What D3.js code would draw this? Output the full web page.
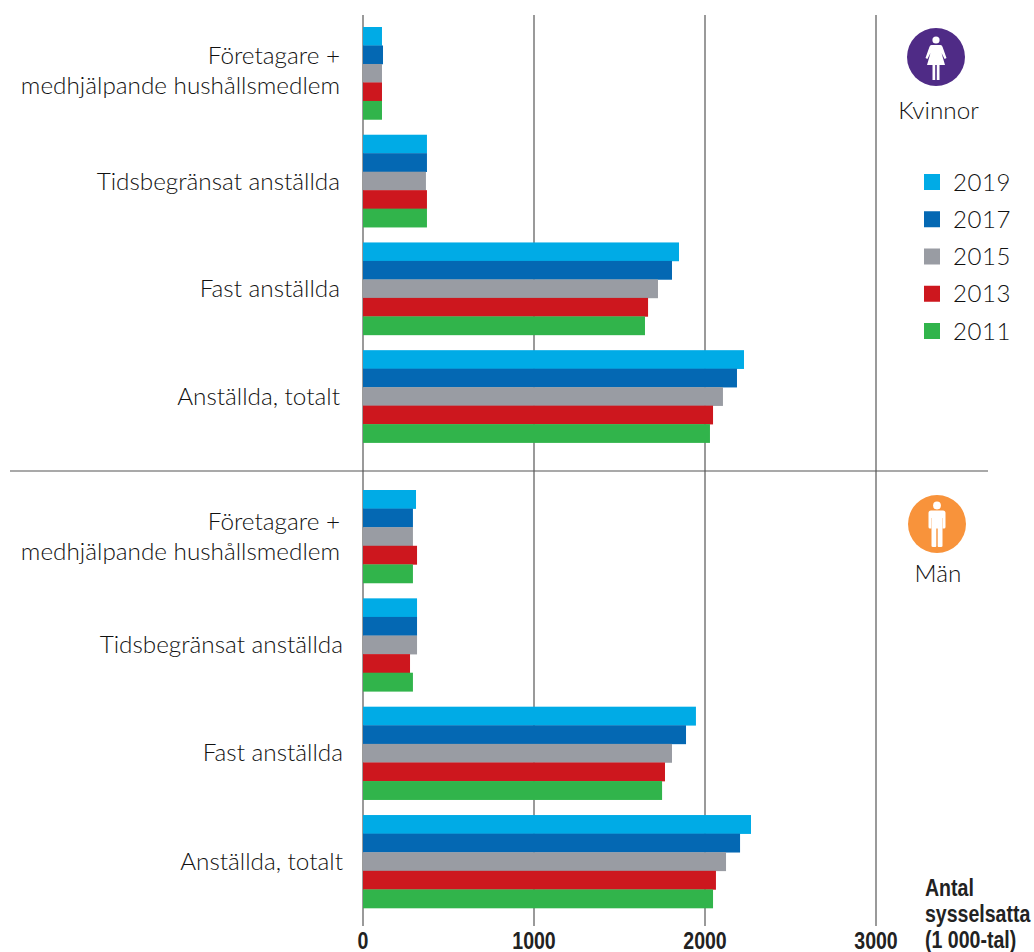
<!DOCTYPE html>
<html><head><meta charset="utf-8">
<script src="https://cdnjs.cloudflare.com/ajax/libs/d3/7.8.5/d3.min.js"></script>
<style>html,body{margin:0;padding:0;background:#fff}svg{display:block}
.lab{font-family:Lato,"Open Sans",sans-serif;font-size:24.3px;fill:#111;font-weight:300}
.tick-l{font-family:"Liberation Sans",sans-serif;font-weight:700;font-size:23px;fill:#222}
</style></head><body>
<svg id="c" width="1034" height="952"></svg>
<script>
const years = ["2019","2017","2015","2013","2011"];
const colors = ["#00abe6","#0468b3","#999ca3","#cd171e","#31b44b"];
const categories = ["Företagare","Tidsbegränsat","Fast","Totalt"];
const tickValues = [0,1000,2000,3000];
const kvinnorForetagare = [111,117,111,111,111];
const kvinnorTids = [374,374,368,374,374];
const kvinnorFast = [1848,1807,1725,1667,1649];
const kvinnorTotalt = [2228,2187,2105,2047,2029];
const manForetagare = [310,292,292,316,292];
const manTids = [316,316,316,275,292];
const manFast = [1947,1889,1807,1766,1749];
const manTotalt = [2269,2205,2123,2064,2047];
const kvinnorLabels = [["Företagare +","medhjälpande hushållsmedlem"],["Tidsbegränsat anställda"],["Fast anställda"],["Anställda, totalt"]];
const manLabels = kvinnorLabels;

const svg = d3.select("#c");
const x = d3.scaleLinear().domain([0,3000]).range([363,876]);

// grid
svg.append("g").selectAll("line").data(tickValues).join("line")
  .attr("x1",d=>x(d)).attr("x2",d=>x(d)).attr("y1",15).attr("y2",926)
  .attr("stroke","#6f6f6f").attr("stroke-width",1.4);
svg.append("line").attr("x1",10).attr("x2",988).attr("y1",471).attr("y2",471).attr("stroke","#555").attr("stroke-width",1.2);

function panel(rows, labels, range, labelRight, labelYs){
  const y0 = d3.scaleBand().domain(categories).range(range).paddingInner(0.142).paddingOuter(0);
  const y1 = d3.scaleBand().domain(years).range([0,y0.bandwidth()]);
  categories.forEach((c,i)=>{
    const g = svg.append("g").attr("transform",`translate(0,${y0(c)})`);
    g.selectAll("rect").data(rows[i]).join("rect")
      .attr("x",x(0)).attr("y",(d,j)=>y1(years[j]))
      .attr("width",d=>x(d)-x(0)).attr("height",y1.bandwidth()+0.3)
      .attr("fill",(d,j)=>colors[j]);
    labels[i].forEach((t,k)=>{
      svg.append("text").attr("class","lab").attr("text-anchor","end")
        .attr("x",labelRight[i]).attr("y",labelYs[i]+k*29.5).text(t);
    });
  });
}
panel([kvinnorForetagare,kvinnorTids,kvinnorFast,kvinnorTotalt],kvinnorLabels,[27,442.6],[340,340,340,340],[64,190,297,405]);
panel([manForetagare,manTids,manFast,manTotalt],manLabels,[490,908],[340,343,343,343],[530,653,761,870]);

// tick labels (condensed bold)
const condense = 0.85;
svg.append("g").selectAll("text").data(tickValues).join("text")
  .attr("class","tick-l").attr("text-anchor","middle")
  .attr("transform",d=>`translate(${x(d)},949) scale(${condense},1)`).text(d=>d);

// axis title
["Antal","sysselsatta","(1 000-tal)"].forEach((t,i)=>{
  svg.append("text").attr("class","tick-l")
    .attr("transform",`translate(925,${896+i*26})  scale(${condense},1)`).text(t);
});

// legend
const legY = d3.scalePoint().domain(years).range([182,331]);
years.forEach((yr,i)=>{
  svg.append("rect").attr("x",924).attr("y",legY(yr)-8).attr("width",16).attr("height",16).attr("fill",colors[i]);
  svg.append("text").attr("class","lab").attr("x",953).attr("y",legY(yr)+8.5).style("font-size","24px").style("letter-spacing","0.6px").text(yr);
});

// icons
function woman(cx,cy){
  const g = svg.append("g").attr("transform",`translate(${cx},${cy})`);
  g.append("circle").attr("r",29).attr("fill","#4f2b86");
  g.append("circle").attr("cy",-17).attr("r",3.6).attr("fill","#fff");
  g.append("path").attr("fill","#fff").attr("d","M-4.5,-12 L4.5,-12 Q6,-12 6.6,-10 L10.5,1 L8.6,2 L5.5,-4 L9,8 L3.5,8 L3.5,23 L0.8,23 L0.8,8 L-0.8,8 L-0.8,23 L-3.5,23 L-3.5,8 L-9,8 L-5.5,-4 L-8.6,2 L-10.5,1 L-6.6,-10 Q-6,-12 -4.5,-12 Z");
  svg.append("text").attr("class","lab").attr("x",cx+2.5).attr("y",119).attr("text-anchor","middle").text("Kvinnor");
}
function man(cx,cy){
  const g = svg.append("g").attr("transform",`translate(${cx},${cy})`);
  g.append("circle").attr("r",29).attr("fill","#f8933b");
  g.append("circle").attr("cy",-18.5).attr("r",3.9).attr("fill","#fff");
  g.append("path").attr("fill","#fff").attr("d","M-6,-13.5 L6,-13.5 Q8.5,-13.5 8.5,-11 L8.5,3 Q8.5,4.5 7,4.5 L5.8,4.5 L5.8,-6 L5.5,-6 L5.5,22 Q5.5,23 4,23 L1.5,23 Q0.7,23 0.7,22 L0.7,4.5 L-0.7,4.5 L-0.7,22 Q-0.7,23 -1.5,23 L-4,23 Q-5.5,23 -5.5,22 L-5.5,-6 L-5.8,-6 L-5.8,4.5 L-7,4.5 Q-8.5,4.5 -8.5,3 L-8.5,-11 Q-8.5,-13.5 -6,-13.5 Z");
  svg.append("text").attr("class","lab").attr("x",cx+1).attr("y",582).attr("text-anchor","middle").text("Män");
}
woman(936,57);
man(937,524);
</script>
</body></html>
